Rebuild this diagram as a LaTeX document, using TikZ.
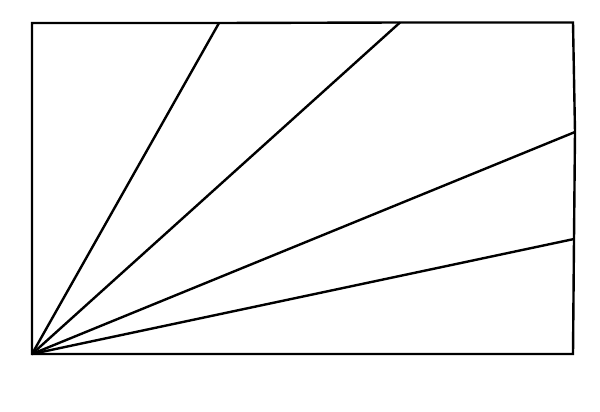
\documentclass[tikz,border=0pt]{standalone}
\begin{document}
\begin{tikzpicture}[x=1pt,y=-1pt,edge/.style={line width=2.4pt,line join=miter}]
\useasboundingbox (0,0) rectangle (600,412);
\coordinate (O) at (32,354);
\coordinate (TL) at (32,23);
\coordinate (T1) at (219,23);
\coordinate (T2) at (400,22.5);
\coordinate (TR) at (573,22.5);
\coordinate (R1) at (575,132);
\coordinate (R2) at (574,239);
\coordinate (BR) at (573,354);
\draw[edge] (O) -- (TL) -- (T1) -- (T2) -- (TR) -- (R1) -- (R2) -- (BR) -- cycle;
\draw[edge] (O) -- (T1);
\draw[edge] (O) -- (T2);
\draw[edge] (O) -- (R1);
\draw[edge] (O) -- (R2);
\end{tikzpicture}
\end{document}
